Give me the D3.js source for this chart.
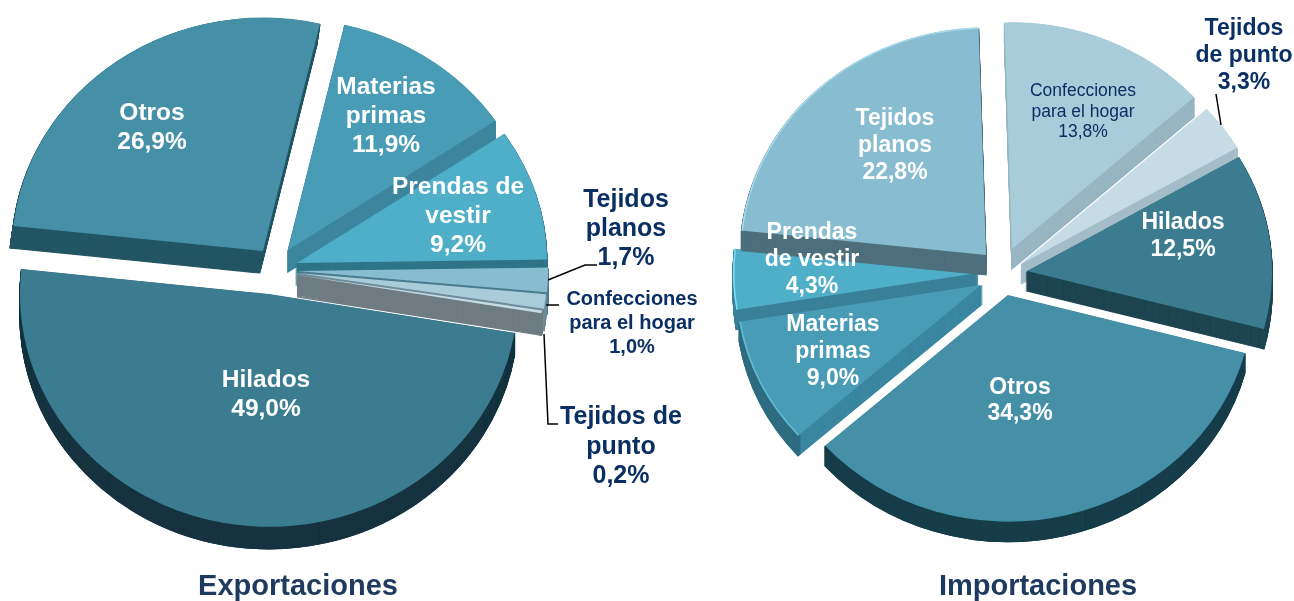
<!DOCTYPE html>
<html>
<head>
<meta charset="utf-8">
<script src="https://cdn.jsdelivr.net/npm/d3@7"></script>
<style>
  body { margin: 0; background: #fff; }
  text { font-family: "Liberation Sans", Arial, sans-serif; text-anchor: middle; dominant-baseline: central; }
</style>
</head>
<body>
<svg width="1294" height="601">
  <defs><filter id="soft"><feGaussianBlur stdDeviation="0.45"></feGaussianBlur></filter></defs>
</svg>
<script>
// Values
var expoCategories = ["Hilados", "Otros", "Materias primas", "Prendas de vestir", "Tejidos planos", "Confecciones para el hogar", "Tejidos de punto"];
var expoValues = [49.0, 26.9, 11.9, 9.2, 1.7, 1.0, 0.2];
var impoCategories = ["Confecciones para el hogar", "Tejidos de punto", "Hilados", "Otros", "Materias primas", "Prendas de vestir", "Tejidos planos"];
var impoValues = [13.8, 3.3, 12.5, 34.3, 9.0, 4.3, 22.8];

// Colours per category
var topColor = {
  "Hilados": "#3b7c90", "Otros": "#4490a7", "Materias primas": "#4a9cb6", "Prendas de vestir": "#4faec8",
  "Tejidos planos": "#88bcd0", "Confecciones para el hogar": "#a9ccdb", "Tejidos de punto": "#c5dce5"
};

var svg = d3.select("svg");
var format = function(v) { return d3.format(".1f")(v).replace(".", ",") + "%"; };
var rad = function(deg) { return deg * Math.PI / 180; };

// Draw one exploded pie with a fake 3d edge
function drawPie(opts) {
  var pie = d3.pie().sort(null).value(function(d) { return d; })
      .startAngle(rad(opts.start)).endAngle(rad(opts.start + 360));
  var slices = pie(opts.values);
  var g = svg.append("g").attr("filter", "url(#soft)");

  opts.order.forEach(function(i) {
    var s = slices[i], c = opts.centres[i], r = opts.radii[i];
    var tilt = opts.tilts ? opts.tilts[i] : opts.tilt;
    var lean = opts.leans ? opts.leans[i] : 0;
    var full = d3.arc().innerRadius(0).outerRadius(r);
    var rim = d3.arc().innerRadius(r - 2.5).outerRadius(r);
    var place = function(dy) {
      return "translate(" + (c[0] + lean * dy) + "," + (c[1] + dy) + ") scale(1," + tilt + ")";
    };

    // side of the slice
    d3.range(opts.depth, 0, -1).forEach(function(dy) {
      g.append("path").attr("d", full(s)).attr("transform", place(dy))
          .attr("fill", opts.sides[i]).attr("stroke", opts.sides[i]).attr("stroke-width", 1.2);
    });
    d3.range(opts.depth, 0, -1).forEach(function(dy) {
      g.append("path").attr("d", rim(s)).attr("transform", place(dy))
          .attr("fill", opts.walls[i]).attr("stroke", opts.walls[i]).attr("stroke-width", 1.2);
    });
    // top of the slice
    g.append("path").attr("d", full(s)).attr("transform", place(0))
        .attr("fill", topColor[opts.categories[i]]);
    // light bevel on some outer edges
    if (opts.bevels && opts.bevels[i]) {
      g.append("path").attr("d", d3.arc().innerRadius(r - 1.5).outerRadius(r)(s))
          .attr("transform", place(0)).attr("fill", opts.bevels[i]);
    }
  });
}

drawPie({
  categories: expoCategories, values: expoValues, start: 99.6, depth: 22,
  order: [1, 2, 3, 4, 5, 6, 0],
  tilts: [0.935, 0.93, 0.925, 0.925, 0.925, 0.925, 0.925],
  leans: [0, -0.15, 0, 0, 0, 0, 0],
  centres: [[269, 294], [263, 251], [288, 250], [297, 263], [297, 271], [297, 273], [297, 275]],
  radii: [249, 251, 250, 250, 251, 250, 248],
  sides: ["#143440", "#235564", "#3c869e", "#2f7488", "#4a7c90", "#6f8c9a", "#6f7c82"],
  walls: ["#143440", "#235564", "#3c869e", "#2f7488", "#4a7c90", "#6f8c9a", "#6f7c82"]
});

drawPie({
  categories: impoCategories, values: impoValues, start: -1.75, tilt: 0.925, depth: 20,
  order: [5, 4, 6, 0, 1, 2, 3],
  centres: [[1012, 249], [1021, 264], [1027, 271], [1008, 295], [981, 285], [978, 273], [986, 255]],
  radii: [245, 250, 245, 245, 245, 245, 246],
  sides: ["#97b5c3", "#a4bdc8", "#1c4552", "#143c4a", "#3a86a0", "#3a8198", "#4f6f7d"],
  walls: ["#97b5c3", "#a4bdc8", "#1c4552", "#143c4a", "#2f6c80", "#3a8198", "#4f6f7d"],
  bevels: [null, null, null, null, "#62bcd4", "#7fdcf5", "#a6dcec"]
});

// Labels: lines of each label, and where they go
var navy = "#0a2f63";
var expoLabels = [
  { i: 1, lines: ["Otros"], x: 152, y: 111, step: 29, size: 24.5, fill: "#fff" },
  { i: 2, lines: ["Materias", "primas"], x: 386, y: 85, step: 29, size: 24.5, fill: "#fff" },
  { i: 3, lines: ["Prendas de", "vestir"], x: 458, y: 185, step: 29, size: 24.5, fill: "#fff" },
  { i: 0, lines: ["Hilados"], x: 266, y: 378, step: 29, size: 24.5, fill: "#fff" },
  { i: 4, lines: ["Tejidos", "planos"], x: 626, y: 198, step: 29, size: 25, fill: navy },
  { i: 5, lines: ["Confecciones", "para el hogar"], x: 632, y: 298, step: 24, size: 20, fill: navy },
  { i: 6, lines: ["Tejidos de", "punto"], x: 621, y: 415, step: 29.5, size: 25, fill: navy }
];
var impoLabels = [
  { i: 6, lines: ["Tejidos", "planos"], x: 895, y: 117, step: 27, size: 23, fill: "#fff" },
  { i: 0, lines: ["Confecciones", "para el hogar"], x: 1083, y: 90, step: 20.5, size: 17.5, fill: navy, normal: true },
  { i: 1, lines: ["Tejidos", "de punto"], x: 1244, y: 27, step: 27, size: 23, fill: navy },
  { i: 2, lines: ["Hilados"], x: 1183, y: 221, step: 27, size: 23, fill: "#fff" },
  { i: 3, lines: ["Otros"], x: 1020, y: 386, step: 26, size: 23, fill: "#fff" },
  { i: 4, lines: ["Materias", "primas"], x: 833, y: 323, step: 27, size: 23, fill: "#fff" },
  { i: 5, lines: ["Prendas", "de vestir"], x: 812, y: 231, step: 27, size: 23, fill: "#fff" }
];

function drawLabels(labels, values) {
  labels.forEach(function(l) {
    var t = svg.append("text").attr("font-size", l.size).attr("fill", l.fill)
        .attr("font-weight", l.normal ? "normal" : "bold");
    l.lines.concat([format(values[l.i])]).forEach(function(line, k) {
      t.append("tspan").attr("x", l.x).attr("y", l.y + k * l.step).text(line);
    });
  });
}
drawLabels(expoLabels, expoValues);
drawLabels(impoLabels, impoValues);

// Leader lines
var leaders = [
  [[548, 280], [585, 265], [597, 265]],
  [[546, 305], [559, 305]],
  [[544, 334], [548, 424], [558, 424]],
  [[1216, 94], [1221, 125]]
];
svg.selectAll(".leader").data(leaders).enter().append("path")
    .attr("class", "leader")
    .attr("d", d3.line())
    .attr("fill", "none")
    .attr("stroke", "#000")
    .attr("stroke-width", 1.5);

// Titles
svg.selectAll(".title").data([["Exportaciones", 298], ["Importaciones", 1038]]).enter().append("text")
    .attr("class", "title")
    .attr("x", function(d) { return d[1]; })
    .attr("y", 584.5)
    .attr("font-size", 29)
    .attr("font-weight", "bold")
    .attr("fill", "#1f3a5f")
    .text(function(d) { return d[0]; });
</script>
</body>
</html>
